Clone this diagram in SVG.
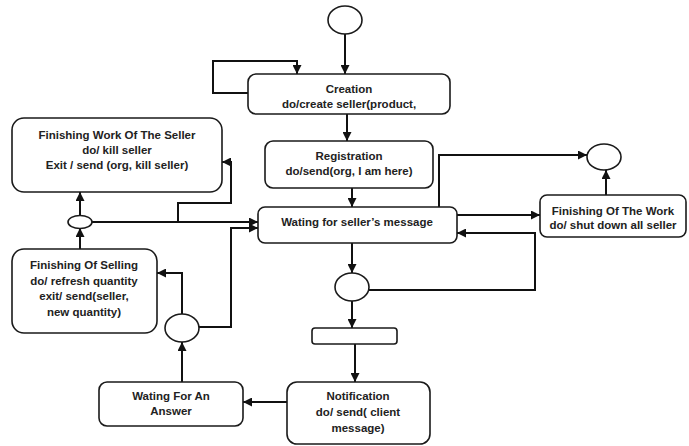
<svg xmlns="http://www.w3.org/2000/svg" width="689" height="446" viewBox="0 0 689 446">
<style>
.box{fill:#fff;stroke:#1a1a1a;stroke-width:1.6}
.st{fill:#fff;stroke:#1a1a1a;stroke-width:1.6}
.ln{fill:none;stroke:#111;stroke-width:2}
text{font-family:"Liberation Sans",Arial,sans-serif;font-weight:bold;font-size:11.5px;fill:#222;text-anchor:middle}
</style>
<defs>
<marker id="ar" viewBox="0 0 10 10" refX="10" refY="5" markerWidth="4.5" markerHeight="4.5" orient="auto" markerUnits="strokeWidth">
<path d="M0,0 L10,5 L0,10 Z" fill="#111"/>
</marker>
</defs>
<rect width="689" height="446" fill="#fff"/>
<g id="connectors">
<path class="ln" d="M345,34 L345,74" marker-end="url(#ar)"/>
<path class="ln" d="M248,93 L213,93 L213,61 L297,61 L297,74" marker-end="url(#ar)"/>
<path class="ln" d="M347,114 L347,141" marker-end="url(#ar)"/>
<path class="ln" d="M352,188 L352,207" marker-end="url(#ar)"/>
<path class="ln" d="M439,207 L439,155 L587,155" marker-end="url(#ar)"/>
<path class="ln" d="M606,195 L606,170" marker-end="url(#ar)"/>
<path class="ln" d="M457,215 L540,215" marker-end="url(#ar)"/>
<path class="ln" d="M369,290 L535,290 L535,233 L457,233" marker-end="url(#ar)"/>
<path class="ln" d="M352,243 L352,273" marker-end="url(#ar)"/>
<path class="ln" d="M352,301 L352,328" marker-end="url(#ar)"/>
<path class="ln" d="M355,344 L355,382" marker-end="url(#ar)"/>
<path class="ln" d="M287,402 L243,402" marker-end="url(#ar)"/>
<path class="ln" d="M182,382 L182,342" marker-end="url(#ar)"/>
<path class="ln" d="M182,314 L182,273 L157,273" marker-end="url(#ar)"/>
<path class="ln" d="M199,327 L231,327 L231,228 L258,228" marker-end="url(#ar)"/>
<path class="ln" d="M80,249 L80,228" marker-end="url(#ar)"/>
<path class="ln" d="M80,215 L80,192" marker-end="url(#ar)"/>
<path class="ln" d="M92,222 L258,222" marker-end="url(#ar)"/>
<path class="ln" d="M178,222 L178,203 L231,203 L231,162 L222,162" marker-end="url(#ar)"/>
</g>
<g id="start"><ellipse class="st" cx="345" cy="20" rx="17" ry="14"/></g>
<g id="creation">
<rect class="box" x="248" y="74" width="202" height="40" rx="8"/>
<text x="349" y="93">Creation</text>
<text x="349" y="108">do/create seller(product,</text>
</g>
<g id="registration">
<rect class="box" x="265" y="141" width="168" height="47" rx="8"/>
<text x="349" y="160">Registration</text>
<text x="349" y="175">do/send(org, I am here)</text>
</g>
<g id="waiting">
<rect class="box" x="258" y="207" width="199" height="36" rx="7"/>
<text x="357" y="226">Wating for seller’s message</text>
</g>
<g id="end-circle"><ellipse class="st" cx="604" cy="157" rx="17" ry="13"/></g>
<g id="finishing-work">
<rect class="box" x="540" y="195" width="146" height="42" rx="7"/>
<text x="613" y="215">Finishing Of The Work</text>
<text x="613" y="229">do/ shut down all seller</text>
</g>
<g id="decision"><ellipse class="st" cx="352" cy="287" rx="17" ry="14"/></g>
<g id="bar"><rect class="box" x="312" y="328" width="85" height="16" rx="3"/></g>
<g id="notification">
<rect class="box" x="287" y="382" width="143" height="62" rx="10"/>
<text x="358" y="400">Notification</text>
<text x="358" y="416">do/ send( client</text>
<text x="358" y="432">message)</text>
</g>
<g id="waiting-answer">
<rect class="box" x="99" y="382" width="144" height="44" rx="8"/>
<text x="171" y="400">Wating For An</text>
<text x="171" y="415">Answer</text>
</g>
<g id="choice"><ellipse class="st" cx="182" cy="328" rx="17" ry="14"/></g>
<g id="finishing-selling">
<rect class="box" x="12" y="249" width="145" height="84" rx="12"/>
<text x="84" y="269">Finishing Of Selling</text>
<text x="84" y="285">do/ refresh quantity</text>
<text x="84" y="300">exit/ send(seller,</text>
<text x="84" y="316">new quantity)</text>
</g>
<g id="fork"><ellipse class="st" cx="80" cy="222" rx="12" ry="6.5"/></g>
<g id="finishing-seller">
<rect class="box" x="12" y="118" width="210" height="74" rx="12"/>
<text x="117" y="139">Finishing Work Of The Seller</text>
<text x="117" y="154">do/ kill seller</text>
<text x="117" y="169">Exit / send (org, kill seller)</text>
</g>
</svg>
